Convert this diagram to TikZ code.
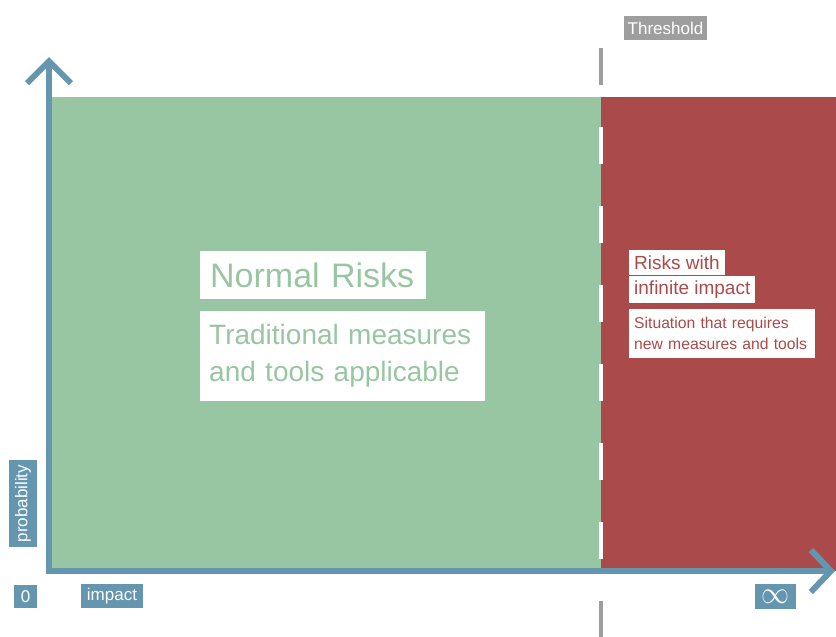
\documentclass[tikz,border=0pt]{standalone}
\usepackage{fontspec}
\setmainfont{Liberation Sans}
\usetikzlibrary{arrows.meta}
\definecolor{riskgreen}{RGB}{153,198,162}
\definecolor{riskred}{RGB}{171,74,74}
\definecolor{axisblue}{RGB}{100,150,176}
\definecolor{threshgray}{RGB}{158,158,158}

\begin{document}
\begin{tikzpicture}[x=1pt, y=-1pt,
  axis/.style={line width=6pt, axisblue},
  tag/.style={fill=axisblue, text=white, inner sep=0pt, font=\fontsize{17}{17}\selectfont},
  textbox/.style={fill=white, anchor=north west, inner xsep=6pt, inner ysep=0pt, align=left},
  thresh/.style={line width=4pt, dash pattern=on 37pt off 42pt}]
  \useasboundingbox (0,0) rectangle (836,637);

  % the two areas
  \fill [riskgreen] (49,97) rectangle (601,571);
  \fill [riskred] (601,97) rectangle (836,571);

  % threshold line, gray outside, white on the areas
  \coordinate (thtop) at (601,48);
  \coordinate (thbot) at (601,640);
  \draw [thresh, threshgray] (thtop) -- (thbot);
  \begin{scope}
    \clip (49,97) rectangle (836,571);
    \draw [thresh, white] (thtop) -- (thbot);
  \end{scope}

  % axes
  \coordinate (ybase) at (49,574);
  \coordinate (ytip) at (49,57);
  \coordinate (xbase) at (46,571);
  \coordinate (xtip) at (835,571);
  \draw [axis, -{Straight Barb[length=22pt,width=44pt]}] (ybase) -- (ytip);
  \draw [axis, -{Straight Barb[length=20pt,width=42pt]}] (xbase) -- (xtip);

  % texts in the areas
  \node [textbox, text=riskgreen, font=\fontsize{34}{34}\selectfont, minimum height=48pt, inner xsep=10pt, text width=206pt] (normal) at (200,251) {Normal Risks};
  \node [textbox, text=riskgreen, font=\fontsize{28}{37}\selectfont, minimum height=90pt, inner xsep=9pt, text width=267pt] (traditional) at (200,311) {Traditional measures\\and tools applicable};
  \node [textbox, text=riskred, font=\fontsize{19}{19}\selectfont, minimum height=25pt, inner xsep=5pt] (riskswith) at (629,250) {Risks with};
  \node [textbox, text=riskred, font=\fontsize{19}{19}\selectfont, minimum height=27pt, inner xsep=5pt] (infinite) at (629,276) {infinite impact};
  \node [textbox, text=riskred, font=\fontsize{15.7}{21}\selectfont, minimum height=49pt, inner xsep=5pt, text width=176pt] (situation) at (629,309) {Situation that requires\\new measures and tools};

  % labels
  \node [tag, fill=threshgray, minimum width=83pt, minimum height=24pt] (threshold) at (665.5,28) {Threshold};
  \node [tag, rotate=90, minimum width=87pt, minimum height=28pt] (probability) at (23,503.5) {probability};
  \node [tag, minimum width=23pt, minimum height=23pt] (zero) at (25.5,596.5) {0};
  \node [tag, minimum width=62pt, minimum height=24pt] (impact) at (112,596) {impact};
  \node [tag, minimum width=41pt, minimum height=25pt] (infinity) at (775.5,596.5) {\fontsize{20}{20}\selectfont\scalebox{1.35}[1.5]{$\infty$}};
\end{tikzpicture}
\end{document}
